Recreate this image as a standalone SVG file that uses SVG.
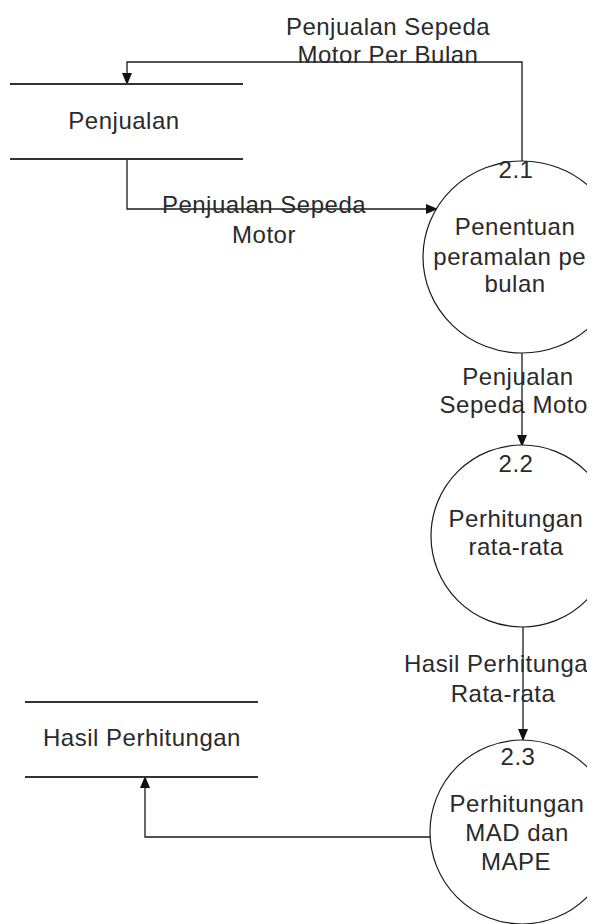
<svg xmlns="http://www.w3.org/2000/svg" width="595" height="924" viewBox="0 0 595 924">
<style>
text{font-family:"Liberation Sans",Arial,sans-serif;font-size:24px;fill:#2a2a2a;text-anchor:middle;letter-spacing:0.5px}
.store{stroke:#333;stroke-width:1.8;fill:none}
.proc{stroke:#1a1a1a;stroke-width:1.2;fill:#fff}
.flow{stroke:#1a1a1a;stroke-width:1.3;fill:none;marker-end:url(#ah)}
</style>
<defs>
<marker id="ah" markerWidth="12" markerHeight="10" refX="11" refY="5" orient="auto" markerUnits="userSpaceOnUse">
<path d="M0,0 L12,5 L0,10 Z" fill="#111"/>
</marker>
<clipPath id="cut"><rect x="0" y="0" width="587" height="924"/></clipPath>
</defs>
<rect width="595" height="924" fill="#fff"/>
<g clip-path="url(#cut)">
<g id="connectors">
<path class="flow" d="M522,161 L522,62 L127,62 L127,84"/>
<path class="flow" d="M127,159 L127,209 L437,209"/>
<path class="flow" d="M522,353 L522,446"/>
<path class="flow" d="M523,627 L523,740"/>
<path class="flow" d="M430,837 L145,837 L145,777"/>
<text x="388" y="35">Penjualan Sepeda</text>
<text x="388" y="63">Motor Per Bulan</text>
<text x="264" y="213">Penjualan Sepeda</text>
<text x="264" y="243">Motor</text>
<text x="518" y="385">Penjualan</text>
<text x="518" y="413">Sepeda Motor</text>
<text x="503" y="672">Hasil Perhitungan</text>
<text x="503" y="702">Rata-rata</text>
</g>
<g id="store-penjualan">
<line class="store" x1="10" y1="84" x2="243" y2="84"/>
<line class="store" x1="10" y1="159" x2="243" y2="159"/>
<text x="124" y="129">Penjualan</text>
</g>
<g id="store-hasil">
<line class="store" x1="25" y1="702" x2="258" y2="702"/>
<line class="store" x1="25" y1="777" x2="258" y2="777"/>
<text x="142" y="746">Hasil Perhitungan</text>
</g>
<g id="p21">
<ellipse class="proc" cx="522" cy="257" rx="99" ry="96"/>
<text x="516" y="178">2.1</text>
<text x="515" y="235">Penentuan</text>
<text x="514" y="265">peramalan per</text>
<text x="515" y="292">bulan</text>
</g>
<g id="p22">
<circle class="proc" cx="522" cy="536" r="91"/>
<text x="516" y="472">2.2</text>
<text x="516" y="527">Perhitungan</text>
<text x="516" y="555">rata-rata</text>
</g>
<g id="p23">
<circle class="proc" cx="522" cy="832" r="92"/>
<text x="518" y="765">2.3</text>
<text x="517" y="812">Perhitungan</text>
<text x="517" y="841">MAD dan</text>
<text x="516" y="870">MAPE</text>
</g>
</g>
</svg>
